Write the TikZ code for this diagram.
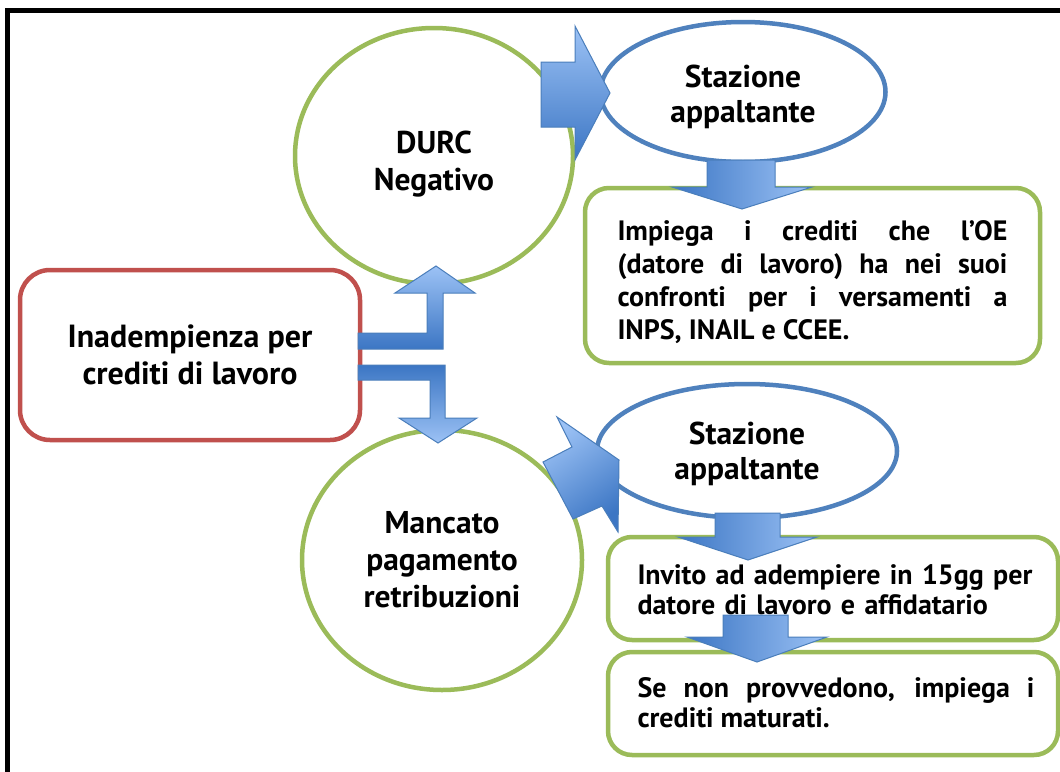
\documentclass[tikz,border=0pt]{standalone}
\usepackage{fontspec}
\setmainfont{PT Sans}
\usetikzlibrary{shapes.geometric}
\definecolor{grn}{HTML}{9BBB59}
\definecolor{rd}{HTML}{C0504D}
\definecolor{blu}{HTML}{4F81BD}
\definecolor{arrline}{HTML}{4A7EBB}
\definecolor{arrlight}{HTML}{9CC2F5}
\definecolor{arrdark}{HTML}{3C76C4}
\begin{document}
\begin{tikzpicture}[x=1pt,y=-1pt,
  greencirc/.style={ellipse,draw=grn,line width=4.5pt,fill=white,inner sep=0pt,align=center,
     font=\fontsize{31.5}{37}\selectfont\bfseries},
  blueell/.style={ellipse,draw=blu,line width=4.5pt,fill=white,inner sep=0pt},
  elltext/.style={inner sep=0pt,align=center,font=\fontsize{31.5}{35}\selectfont\bfseries},
  greenbox/.style={rectangle,rounded corners=24pt,draw=grn,line width=4.5pt,fill=white,inner sep=0pt},
  redbox/.style={rectangle,rounded corners=30pt,draw=rd,line width=4.5pt,fill=white,inner sep=0pt,align=center,
     font=\fontsize{32}{37}\selectfont\bfseries},
  txt/.style={inner sep=0pt},
  blockarrow/.style={draw=arrline,line width=1pt,line join=miter},
  vgrad/.style={top color=arrlight,bottom color=arrdark},
  vgradinv/.style={top color=arrdark,bottom color=arrlight},
  hgrad/.style={left color=arrdark,right color=arrlight}
]
\useasboundingbox (0,0) rectangle (1060,771);
\clip (0,0) rectangle (1060,771);
\fill[white] (0,0) rectangle (1060,771);
% frame
\draw[line width=5pt] (7.5,10.5) rectangle (1080,790);

% nodes
\node[redbox,minimum width=340pt,minimum height=170pt] (inad) at (190,355) {Inadempienza per\\crediti di lavoro};
\node[greencirc,minimum width=278pt,minimum height=256pt] (durc) at (434,156) {};
\node[txt,font=\fontsize{31.5}{37}\selectfont\bfseries,align=center] (durct) at (434,164) {DURC\\Negativo};
\node[greencirc,minimum width=280pt,minimum height=260pt] (manc) at (442,560) {Mancato\\pagamento\\retribuzioni};
\node[blueell,minimum width=285pt,minimum height=140pt] (sa1) at (743,92) {};
\node[elltext] (sa1t) at (743,97) {Stazione\\appaltante};
\node[blueell,minimum width=300pt,minimum height=134pt] (sa2) at (747,451) {};
\node[elltext] (sa2t) at (747,454) {Stazione\\appaltante};

\node[greenbox,minimum width=455pt,minimum height=175pt] (b1) at (812.5,275.5) {};
\node[txt,text width=390pt,align=justify,font=\fontsize{28}{33}\selectfont\bfseries] (b1t) at (812.5,282)
  {Impiega i crediti che l’OE\linebreak (datore di lavoro) ha nei suoi\linebreak confronti per i versamenti a\linebreak INPS, INAIL e CCEE.};
\node[greenbox,minimum width=450pt,minimum height=103pt] (b2) at (833,588.5) {};
\node[txt,text width=397pt,align=left,font=\fontsize{28}{30}\selectfont\bfseries] (b2t) at (836,590)
  {Invito ad adempiere in 15gg per\\datore di lavoro e affidatario};
\node[greenbox,minimum width=450pt,minimum height=103pt] (b3) at (833,703.5) {};
\node[txt,text width=397pt,align=justify,font=\fontsize{28}{30}\selectfont\bfseries] (b3t) at (836,703)
  {Se non provvedono, impiega i\linebreak crediti maturati.};

% block arrows
% DURC -> Stazione appaltante
\draw[blockarrow,vgrad] (541,62) -- (575,62) -- (575,26) -- (610,93) -- (575,160) -- (575,127) -- (541,127) -- cycle;
% Mancato -> Stazione appaltante (rotated)
\draw[blockarrow,top color=arrlight,bottom color=arrdark,shading angle=35]
  (543,462) -- (572,447) -- (557,417) -- (619,460) -- (618,532) -- (602,506) -- (573,519) -- cycle;
% elbow arrows from Inadempienza
\draw[blockarrow,vgrad] (358,333) -- (427,333) -- (427,293) -- (395,293) -- (436,266) -- (475,293) -- (443,293) -- (443,349) -- (358,349) -- cycle;
\draw[blockarrow,vgradinv] (358,365) -- (445,365) -- (445,418) -- (477,418) -- (438,443) -- (399,418) -- (430,418) -- (430,380) -- (358,380) -- cycle;
% down arrows
\draw[blockarrow,hgrad] (707,160) -- (775,160) -- (775,187) -- (812,187) -- (742,209) -- (672,187) -- (707,187) -- cycle;
\draw[blockarrow,hgrad] (715,513) -- (780,513) -- (780,537) -- (817,537) -- (748,560) -- (678,537) -- (715,537) -- cycle;
\draw[blockarrow,hgrad] (723,615) -- (788,615) -- (788,637) -- (827,637) -- (757,662) -- (687,637) -- (723,637) -- cycle;
\end{tikzpicture}
\end{document}
